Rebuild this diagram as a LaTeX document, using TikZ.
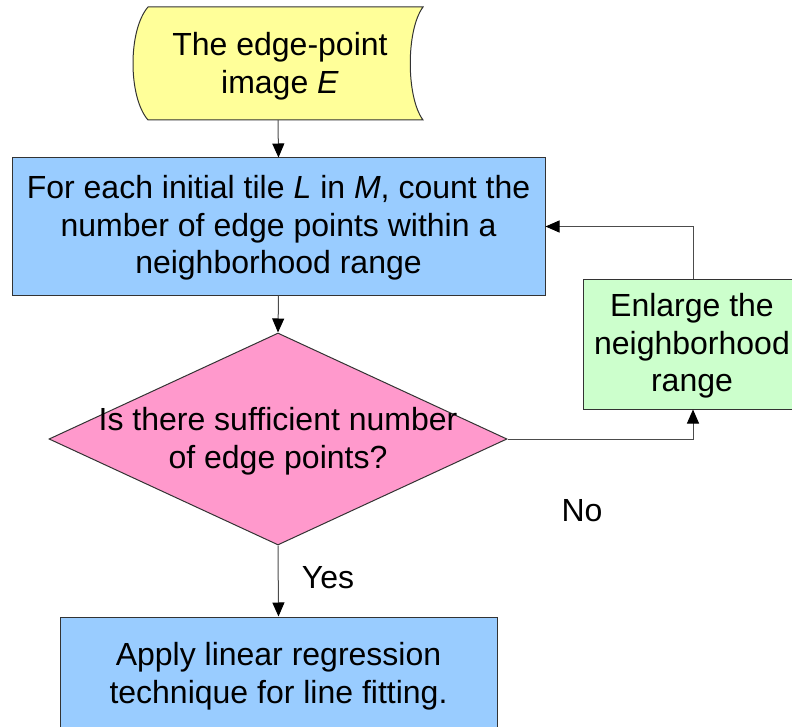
\documentclass[tikz,border=0pt]{standalone}
\usepackage{fontspec}
\setmainfont{Liberation Sans}
\usetikzlibrary{shapes.geometric,arrows.meta}
\definecolor{srcyellow}{HTML}{FFFF99}
\definecolor{procblue}{HTML}{99CCFF}
\definecolor{decpink}{HTML}{FF99CC}
\definecolor{enlgreen}{HTML}{CCFFCC}
\definecolor{edgegray}{HTML}{333333}
\tikzset{
  txt/.style={font=\fontsize{32}{37.5}\selectfont, align=center, inner sep=0pt, text=black},
  procbox/.style={rectangle, draw=edgegray, line width=1pt, inner sep=0pt},
  flow/.style={draw=black!70, line width=1pt, -{Triangle[length=14pt,width=12pt,color=black]}},
}
\begin{document}
\begin{tikzpicture}[x=1pt,y=-1pt]
\useasboundingbox (0,0) rectangle (792,727);
\clip (0,0) rectangle (792,727);
% stored data shape
\filldraw[fill=srcyellow, draw=edgegray, line width=1pt]
  (148,7) -- (423,7) .. controls (406,30) and (406,97) .. (423,120)
  -- (148,120) .. controls (128,97) and (128,30) .. (148,7) -- cycle;
\node[rectangle, minimum width=275pt, minimum height=113pt, inner sep=0pt] (src) at (278,63.5) {};
\node[txt] (srct) at (280,66) {The edge-point\\image \textit{E}};
% count box
\node[procbox, fill=procblue, minimum width=533pt, minimum height=137pt] (count) at (278.5,226.5) {};
\node[txt] (countt) at (278.5,228) {For each initial tile \textit{L} in \textit{M}, count the\\number of edge points within a\\neighborhood range};
% decision
\node[diamond, draw=edgegray, line width=1pt, fill=decpink, minimum width=458pt, minimum height=212pt, inner sep=0pt] (dec) at (278,439) {};
\node[txt] (dect) at (278,441) {Is there sufficient number\\of edge points?};
% enlarge box
\node[procbox, fill=enlgreen, minimum width=220pt, minimum height=129pt] (enl) at (693,344.5) {};
\node[txt] (enlt) at (692,346) {Enlarge the\\neighborhood\\range};
% apply box
\node[procbox, fill=procblue, minimum width=437pt, minimum height=143pt] (app) at (278.5,688.5) {};
\node[txt] (appt) at (278.5,676) {Apply linear regression\\technique for line fitting.};
% labels
\node[txt] (yes) at (328,578) {Yes};
\node[txt] (no) at (582,511) {No};
% connectors
\draw[flow] (src.south) -- (count.north);
\draw[flow] (count.south) -- (dec.north);
\draw[flow] (dec.south) -- (app.north);
\draw[flow] (dec.east) -| (enl.south);
\draw[flow] (enl.north) |- (count.east);
\end{tikzpicture}
\end{document}
